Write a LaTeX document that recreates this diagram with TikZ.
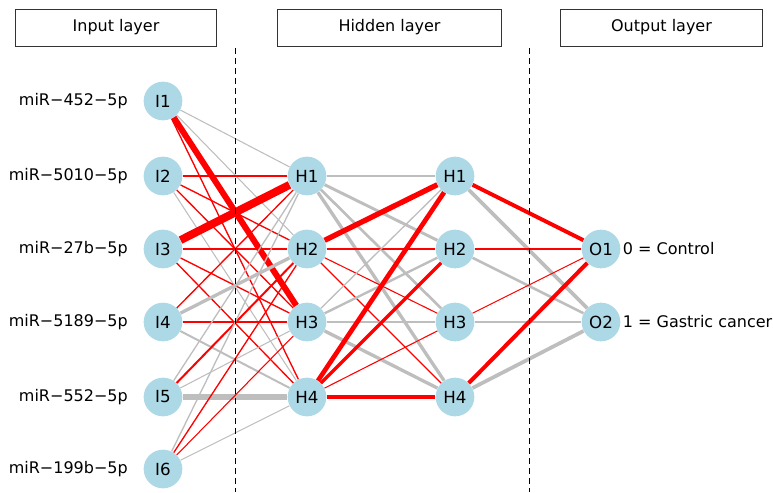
\documentclass[tikz,border=0pt]{standalone}
\usepackage{fontspec}
\setmainfont{DejaVu Sans}
\usetikzlibrary{positioning,backgrounds}
\definecolor{nodeblue}{RGB}{173,216,230}
\definecolor{posred}{RGB}{255,0,0}
\definecolor{neggray}{RGB}{190,190,190}

\begin{document}
\begin{tikzpicture}[x=0.75pt, y=-0.75pt, font=\fontsize{12}{14}\selectfont]
  \tikzset{neuron/.style={circle, fill=nodeblue, minimum size=29pt, inner sep=0pt, font=\fontsize{12.5}{14}\selectfont}}
  \tikzset{header/.style={draw=black!80, line width=0.6pt, minimum height=27.75pt, inner sep=0pt}}
  \tikzset{lbl/.style={inner sep=0pt}}
  \tikzset{divider/.style={line width=0.75pt, dash pattern=on 4.5pt off 3pt}}
  \tikzset{pos/.style={posred, line width=#1pt}}
  \tikzset{neg/.style={neggray, line width=#1pt}}
  \useasboundingbox (0,0) rectangle (773,492);
  % layer headers
  \node[header, minimum width=151pt] (inhead) at (116,27.5) {Input layer};
  \node[header, minimum width=168pt] (hidhead) at (389.5,27.5) {Hidden layer};
  \node[header, minimum width=151pt] (outhead) at (661.5,27.5) {Output layer};
  \draw[divider] (235,48) -- (235,492);
  \draw[divider] (529,48) -- (529,492);
  % input layer
  \node[neuron] (I1) at (163,101) {I1};
  \node[neuron] (I2) at (163,176) {I2};
  \node[neuron] (I3) at (163,249) {I3};
  \node[neuron] (I4) at (163,322) {I4};
  \node[neuron] (I5) at (163,397) {I5};
  \node[neuron] (I6) at (163,469) {I6};
  \node[lbl, left=11.5pt of I1] {miR−452−5p};
  \node[lbl, left=11.5pt of I2] {miR−5010−5p};
  \node[lbl, left=11.5pt of I3] {miR−27b−5p};
  \node[lbl, left=11.5pt of I4] {miR−5189−5p};
  \node[lbl, left=11.5pt of I5] {miR−552−5p};
  \node[lbl, left=11.5pt of I6] {miR−199b−5p};
  % hidden layers
  \node[neuron] (Ha1) at (307,176) {H1};
  \node[neuron] (Ha2) at (307,249) {H2};
  \node[neuron] (Ha3) at (307,322) {H3};
  \node[neuron] (Ha4) at (307,397) {H4};
  \node[neuron] (Hb1) at (455,176) {H1};
  \node[neuron] (Hb2) at (455,249) {H2};
  \node[neuron] (Hb3) at (455,322) {H3};
  \node[neuron] (Hb4) at (455,397) {H4};
  % output layer
  \node[neuron] (O1) at (601,249) {O1};
  \node[neuron] (O2) at (601,322) {O2};
  \node[lbl, right=1.5pt of O1] {0 = Control};
  \node[lbl, right=1.5pt of O2] {1 = Gastric cancer};
  % weights
  \begin{scope}[on background layer]
    \foreach \a/\b/\s/\w in {
      I1/Ha1/neg/0.8, I1/Ha2/neg/0.8, I1/Ha3/pos/4.5, I1/Ha4/pos/1,
      I2/Ha1/pos/1.5, I2/Ha2/pos/1, I2/Ha3/pos/1, I2/Ha4/neg/0.8,
      I3/Ha1/pos/6, I3/Ha2/pos/1.5, I3/Ha3/pos/1, I3/Ha4/pos/1,
      I4/Ha1/pos/1, I4/Ha2/neg/2.5, I4/Ha3/pos/1.5, I4/Ha4/neg/1.5,
      I5/Ha1/neg/1, I5/Ha2/pos/1.5, I5/Ha3/neg/0.8, I5/Ha4/neg/5,
      I6/Ha1/neg/1, I6/Ha2/pos/1, I6/Ha3/pos/0.8, I6/Ha4/neg/0.8}
      \draw[\s=\w] (\a) -- (\b);
    \foreach \a/\b/\s/\w in {
      Ha1/Hb1/neg/2.2, Ha1/Hb2/neg/2.2, Ha1/Hb3/neg/2, Ha1/Hb4/neg/2.5,
      Ha2/Hb1/pos/4, Ha2/Hb2/pos/1.5, Ha2/Hb3/pos/0.8, Ha2/Hb4/pos/0.8,
      Ha3/Hb1/neg/1, Ha3/Hb2/neg/1.8, Ha3/Hb3/neg/1.2, Ha3/Hb4/neg/2.5,
      Ha4/Hb1/pos/3.5, Ha4/Hb2/pos/2.5, Ha4/Hb3/pos/0.8, Ha4/Hb4/pos/3}
      \draw[\s=\w] (\a) -- (\b);
    \foreach \a/\b/\s/\w in {
      Hb1/O1/pos/3, Hb1/O2/neg/2.8, Hb2/O1/pos/2, Hb2/O2/neg/2,
      Hb3/O1/pos/0.8, Hb3/O2/neg/1, Hb4/O1/pos/3, Hb4/O2/neg/2.8}
      \draw[\s=\w] (\a) -- (\b);
  \end{scope}
\end{tikzpicture}
\end{document}
